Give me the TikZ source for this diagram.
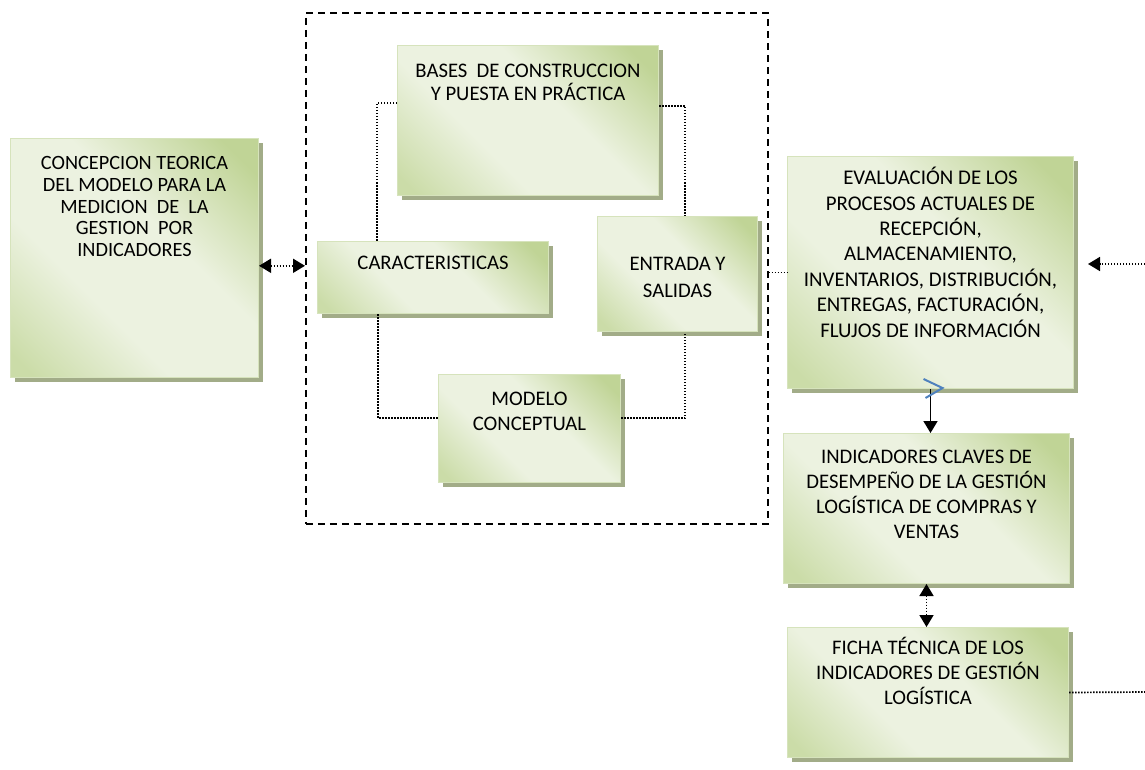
\documentclass[tikz,border=0pt]{standalone}
\usepackage{fontspec}
\setmainfont{Carlito}
\usetikzlibrary{arrows.meta,shadows}

\definecolor{gdark}{RGB}{192,212,150}
\definecolor{gmid}{RGB}{203,220,168}
\definecolor{glight}{RGB}{236,242,224}
\definecolor{gborder}{RGB}{214,227,188}
\definecolor{gshadow}{RGB}{162,172,136}
\definecolor{chevblue}{RGB}{79,129,189}

% diagonal green fill: darker corners, light band through the middle
\pgfdeclareverticalshading{greenfx}{100bp}{%
  color(0bp)=(gmid); color(18bp)=(gmid); color(38bp)=(glight);
  color(58bp)=(glight); color(80bp)=(gdark); color(100bp)=(gdark)}

\tikzset{
  greenbox/.style={rectangle, anchor=north west, inner sep=0pt, draw=gborder, line width=1pt,
    shading=greenfx, shading angle=-45,
    general shadow={fill=gshadow, shadow xshift=4.5pt, shadow yshift=-4.5pt}},
  boxtext/.style={anchor=north, inner sep=0pt, align=center, text=black,
    font=\fontsize{20.7}{25}\selectfont, execute at begin node=\strut},
  dotline/.style={line width=1.7pt, dash pattern=on 1.5pt off 1.5pt},
  frameline/.style={line width=1.6pt, dash pattern=on 7pt off 5pt},
}

\begin{document}
\begin{tikzpicture}[x=1pt, y=-1pt, >={Triangle[width=14pt,length=12pt]}]
\useasboundingbox (0,0) rectangle (1145,770);

% dashed frame around the model components
\node[draw, frameline, anchor=north west, inner sep=0pt, minimum width=462pt, minimum height=511pt] (frame) at (305,12) {};

% boxes
\node[greenbox, minimum width=248pt, minimum height=239pt] (concep) at (10,138) {};
\node[greenbox, minimum width=261pt, minimum height=150pt] (bases) at (397,45) {};
\node[greenbox, minimum width=231pt, minimum height=72pt] (carac) at (317,241) {};
\node[greenbox, minimum width=160pt, minimum height=115pt] (entrada) at (597,216) {};
\node[greenbox, minimum width=182pt, minimum height=108pt] (modelo) at (438,374) {};
\node[greenbox, minimum width=286pt, minimum height=232pt] (eval) at (787,156) {};
\node[greenbox, minimum width=286pt, minimum height=150pt] (indic) at (783,433) {};
\node[greenbox, minimum width=281pt, minimum height=130pt] (ficha) at (787,627) {};

% box texts
\node[boxtext, font=\fontsize{20.3}{21.7}\selectfont] (concept) at ([yshift=-18.5pt]concep.north)
  {CONCEPCION TEORICA\\DEL MODELO PARA LA\\MEDICION\ \ DE\ \ LA\\GESTION\ \ POR\\INDICADORES};
\node[boxtext, font=\fontsize{20.7}{23.3}\selectfont] (basest) at ([yshift=-18.5pt]bases.north)
  {BASES\ \ DE CONSTRUCCION\\Y PUESTA EN PRÁCTICA};
\node[boxtext] (caract) at ([yshift=-11pt]carac.north) {CARACTERISTICAS};
\node[boxtext, font=\fontsize{20.7}{26.7}\selectfont] (entradat) at ([yshift=-41pt]entrada.north)
  {ENTRADA Y\\SALIDAS};
\node[boxtext] (modelot) at ([yshift=-17.5pt]modelo.north) {MODELO\\CONCEPTUAL};
\node[boxtext, font=\fontsize{20.9}{25.4}\selectfont] (evalt) at ([yshift=-11pt]eval.north)
  {EVALUACIÓN DE LOS\\PROCESOS ACTUALES DE\\RECEPCIÓN,\\ALMACENAMIENTO,\\INVENTARIOS, DISTRIBUCIÓN,\\ENTREGAS, FACTURACIÓN,\\FLUJOS DE INFORMACIÓN};
\node[boxtext] (indict) at ([yshift=-17pt]indic.north)
  {INDICADORES CLAVES DE\\DESEMPEÑO DE LA GESTIÓN\\LOGÍSTICA DE COMPRAS Y\\VENTAS};
\node[boxtext] (fichat) at ([yshift=-10pt]ficha.north)
  {FICHA TÉCNICA DE LOS\\INDICADORES DE GESTIÓN\\LOGÍSTICA};

% dotted links inside the frame
\draw[dotline] ([yshift=-58pt]bases.north west) -| ([xshift=60pt]carac.north west);
\draw[dotline] ([yshift=-61pt]bases.north east) -| ([xshift=88pt]entrada.north west);
\draw[dotline] ([xshift=61pt]carac.south west) |- ([yshift=-44pt]modelo.north west);
\draw[dotline] ([yshift=-44pt]modelo.north east) -| ([xshift=88pt]entrada.south west);

% links between the main blocks
\draw[dotline, <->] ([yshift=2.5pt]frame.west -| concep.east) -- ([yshift=2.5pt]frame.west);
\draw[dotline] (frame.east |- eval.west) -- (eval.west);
\coordinate (rin) at (1145,264);
\coordinate (rtip) at (1088,264);
\draw[dotline, ->] (rin) -- (rtip);
\draw[line width=1.7pt, ->] (eval.south) -- (eval.south |- indic.north);
\draw[chevblue, line width=2pt] ([shift={(-7,-10)}]eval.south) -- ++(19,9) -- ++(-17,10);
\draw[dotline, <->] (indic.south) -- (indic.south |- ficha.north);
\coordinate (rout) at (1145,692);
\draw[dotline] (ficha.east) -- (rout);
\end{tikzpicture}
\end{document}
